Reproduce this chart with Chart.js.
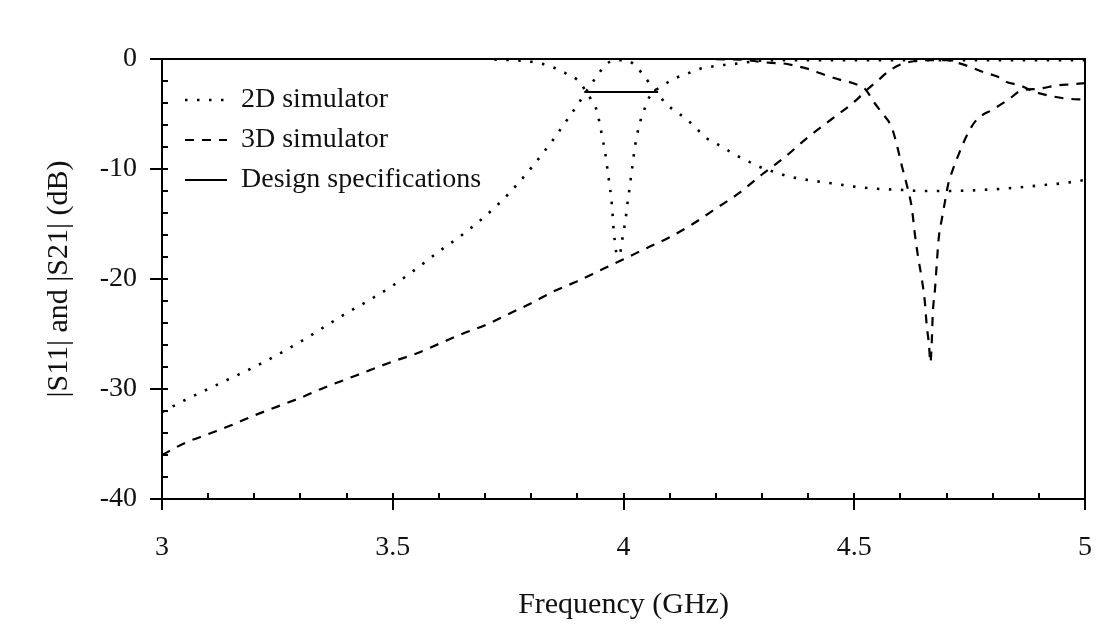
<!DOCTYPE html>
<html>
<head>
<meta charset="utf-8">
<script src="https://cdn.jsdelivr.net/npm/chart.js@4.4.1/dist/chart.umd.min.js"></script>
<style>
  html, body { margin: 0; padding: 0; background: #fff; }
  #wrap { width: 1099px; height: 632px; }
</style>
</head>
<body>
<div id="wrap"><canvas id="c" width="1099" height="632"></canvas></div>
<script>
// ---------- data ----------
const xTickValues = [3, 3.5, 4, 4.5, 5];
const xTickLabels = ['3', '3.5', '4', '4.5', '5'];
const yTickValues = [-40, -30, -20, -10, 0];
const yTickLabels = ['-40', '-30', '-20', '-10', '0'];
const xMinorStep = 0.1;
const yMinorStep = 2;

// 2D simulator, |S11|
const s11_2d_f  = [3.72, 3.76, 3.80, 3.82, 3.85, 3.875, 3.90, 3.915, 3.93, 3.943, 3.948, 3.954, 3.959, 3.963, 3.966, 3.969, 3.973, 3.976, 3.978, 3.981, 3.984, 3.988, 3.993, 3.997, 4.001, 4.005, 4.008, 4.012, 4.016, 4.020, 4.024, 4.028, 4.033, 4.039, 4.046, 4.053, 4.063, 4.085, 4.115, 4.14, 4.165, 4.19, 4.215, 4.24, 4.267, 4.295, 4.35, 4.5, 4.7, 4.9, 5.0];
const s11_2d_db = [-0.05, -0.1, -0.25, -0.4, -0.8, -1.3, -1.9, -2.7, -3.7, -4.8, -5.8, -7.1, -8.2, -9.3, -10.3, -11.2, -12.5, -13.9, -15.2, -16.5, -17.5, -17.9, -17.6, -16.5, -15.5, -14.4, -13.3, -12.1, -10.8, -9.5, -8.2, -7.2, -6.2, -5.3, -4.5, -3.7, -3.1, -2.4, -1.7, -1.3, -0.9, -0.7, -0.55, -0.45, -0.3, -0.15, -0.1, -0.1, -0.1, -0.1, -0.1];

// 2D simulator, |S21|
const s21_2d_f  = [3.00, 3.05, 3.10, 3.15, 3.20, 3.25, 3.30, 3.35, 3.40, 3.45, 3.50, 3.55, 3.60, 3.65, 3.70, 3.75, 3.80, 3.85, 3.88, 3.90, 3.92, 3.94, 3.96, 3.98, 4.00, 4.02, 4.04, 4.06, 4.075, 4.09, 4.115, 4.14, 4.16, 4.18, 4.21, 4.23, 4.255, 4.28, 4.30, 4.33, 4.36, 4.40, 4.45, 4.50, 4.55, 4.60, 4.65, 4.70, 4.75, 4.80, 4.85, 4.90, 4.95, 5.00];
const s21_2d_db = [-32.1, -31.0, -30.0, -29.0, -28.0, -26.9, -25.7, -24.4, -23.1, -21.9, -20.6, -19.1, -17.5, -16.0, -14.3, -12.3, -9.9, -7.2, -5.4, -4.2, -2.9, -1.7, -0.6, -0.1, -0.1, -0.4, -1.3, -2.4, -3.1, -4.0, -4.8, -5.6, -6.4, -7.2, -7.9, -8.4, -9.0, -9.5, -9.9, -10.3, -10.7, -11.0, -11.3, -11.6, -11.8, -11.9, -12.0, -12.0, -11.95, -11.85, -11.7, -11.5, -11.3, -11.0];

// 3D simulator, |S11|
const s11_3d_f  = [4.20, 4.25, 4.27, 4.295, 4.32, 4.345, 4.37, 4.40, 4.42, 4.44, 4.47, 4.49, 4.51, 4.523, 4.544, 4.562, 4.581, 4.594, 4.603, 4.610, 4.616, 4.625, 4.631, 4.638, 4.646, 4.653, 4.657, 4.662, 4.665, 4.668, 4.670, 4.675, 4.679, 4.683, 4.690, 4.696, 4.703, 4.714, 4.725, 4.740, 4.755, 4.768, 4.80, 4.837, 4.86, 4.90, 4.94, 4.97, 5.00];
const s11_3d_db = [-0.02, -0.05, -0.1, -0.25, -0.35, -0.4, -0.6, -0.9, -1.2, -1.5, -1.9, -2.1, -2.4, -2.7, -4.0, -5.0, -6.2, -8.1, -9.7, -10.8, -11.8, -13.6, -15.8, -17.9, -19.9, -22.1, -24.2, -26.0, -27.6, -25.7, -23.3, -20.9, -18.5, -16.3, -14.5, -13.1, -11.5, -10.0, -8.8, -7.3, -6.1, -5.4, -4.6, -3.6, -2.9, -2.7, -2.4, -2.3, -2.2];

// 3D simulator, |S21|
const s21_3d_f  = [3.00, 3.05, 3.10, 3.15, 3.20, 3.25, 3.30, 3.35, 3.40, 3.45, 3.50, 3.55, 3.60, 3.65, 3.70, 3.75, 3.80, 3.85, 3.90, 3.95, 4.00, 4.05, 4.10, 4.15, 4.20, 4.25, 4.30, 4.35, 4.40, 4.45, 4.50, 4.525, 4.55, 4.575, 4.60, 4.63, 4.66, 4.70, 4.72, 4.75, 4.78, 4.81, 4.83, 4.86, 4.88, 4.90, 4.93, 4.96, 5.00];
const s21_3d_db = [-36.0, -34.9, -34.1, -33.3, -32.4, -31.6, -30.8, -29.9, -29.1, -28.3, -27.5, -26.8, -25.9, -25.0, -24.2, -23.2, -22.2, -21.1, -20.2, -19.2, -18.2, -17.2, -16.2, -15.0, -13.6, -12.2, -10.5, -8.9, -7.1, -5.5, -3.9, -2.9, -2.0, -1.1, -0.5, -0.2, -0.1, -0.1, -0.3, -0.7, -1.2, -1.6, -2.1, -2.4, -2.8, -3.1, -3.4, -3.6, -3.7];

// Design specification
const spec_f  = [3.915, 4.075];
const spec_db = [-3, -3];

// ---------- chart ----------
const pts = (fs, vs) => fs.map((f, i) => ({ x: f, y: vs[i] }));
const FONT = "'Liberation Serif', 'Times New Roman', serif";
const INK = '#111';
const DOT = [2.5, 9.5];
const DASH = [9, 8];

const base = {
  borderColor: '#000', backgroundColor: '#000', borderWidth: 2.2,
  pointRadius: 0, fill: false, tension: 0, cubicInterpolationMode: 'monotone',
  borderCapStyle: 'butt'
};

const axisTicks = {
  id: 'axisTicks',
  afterLayout(chart) {
    const a = chart.chartArea, lg = chart.legend;
    if (lg) {
      lg.left = a.left + 11; lg.right = lg.left + lg.width;
      lg.top = a.top + 15; lg.bottom = a.bottom;
    }
  },
  afterDraw(chart) {
    const ctx = chart.ctx, a = chart.chartArea;
    const xs = chart.scales.x, ys = chart.scales.y;
    ctx.save();
    ctx.strokeStyle = '#000';
    ctx.lineWidth = 2;
    ctx.setLineDash([]);
    ctx.beginPath();
    // frame: top and right
    ctx.moveTo(a.left, a.top); ctx.lineTo(a.right, a.top); ctx.lineTo(a.right, a.bottom);
    // inward ticks on x axis
    for (let v = xs.min; v <= xs.max + 1e-9; v += xMinorStep) {
      const px = Math.round(xs.getPixelForValue(v));
      ctx.moveTo(px, a.bottom); ctx.lineTo(px, a.bottom - 6);
    }
    // inward ticks on y axis
    for (let v = ys.min; v <= ys.max + 1e-9; v += yMinorStep) {
      const py = Math.round(ys.getPixelForValue(v));
      ctx.moveTo(a.left, py); ctx.lineTo(a.left + 6, py);
    }
    ctx.stroke();
    ctx.restore();
  }
};

new Chart(document.getElementById('c'), {
  type: 'line',
  data: {
    datasets: [
      Object.assign({}, base, { label: '2D simulator', data: pts(s11_2d_f, s11_2d_db), borderDash: DOT, borderWidth: 2.6 }),
      Object.assign({}, base, { label: '3D simulator', data: pts(s11_3d_f, s11_3d_db), borderDash: DASH }),
      Object.assign({}, base, { label: 'Design specifications', data: pts(spec_f, spec_db), borderDash: [], cubicInterpolationMode: 'default' }),
      Object.assign({}, base, { label: '2D simulator |S21|', data: pts(s21_2d_f, s21_2d_db), borderDash: DOT, borderWidth: 2.6 }),
      Object.assign({}, base, { label: '3D simulator |S21|', data: pts(s21_3d_f, s21_3d_db), borderDash: DASH })
    ]
  },
  options: {
    responsive: false,
    animation: false,
    layout: { padding: { top: 59, right: 14, left: 0, bottom: 0 } },
    scales: {
      x: {
        type: 'linear', min: 3, max: 5,
        afterFit: s => { s.height = 133; s.paddingLeft = 0; s.paddingRight = 0; },
        afterBuildTicks: s => { s.ticks = xTickValues.map(v => ({ value: v })); },
        ticks: {
          callback: (v, i) => xTickLabels[i],
          font: { family: FONT, size: 28 }, color: INK, padding: 21, maxRotation: 0, autoSkip: false
        },
        grid: { display: true, drawOnChartArea: false, drawTicks: true, tickLength: 11, color: '#000', lineWidth: 2 },
        border: { display: true, color: '#000', width: 2 },
        title: { display: true, text: 'Frequency (GHz)', font: { family: FONT, size: 30 }, color: INK, padding: { top: 0, bottom: 9 } }
      },
      y: {
        type: 'linear', min: -40, max: 0,
        afterFit: s => { s.width = 162; s.paddingTop = 0; s.paddingBottom = 0; },
        afterBuildTicks: s => { s.ticks = yTickValues.map(v => ({ value: v })); },
        ticks: {
          callback: (v, i) => yTickLabels[i],
          font: { family: FONT, size: 28 }, color: INK, padding: 13, autoSkip: false
        },
        grid: { display: true, drawOnChartArea: false, drawTicks: true, tickLength: 12, color: '#000', lineWidth: 2 },
        border: { display: true, color: '#000', width: 2 },
        title: { display: true, text: '|S11| and |S21| (dB)', font: { family: FONT, size: 30 }, color: INK, padding: { top: 41, bottom: 0 } }
      }
    },
    plugins: {
      tooltip: { enabled: false },
      legend: {
        display: true,
        position: 'chartArea',
        align: 'start',
        labels: {
          generateLabels: chart => {
            const items = Chart.defaults.plugins.legend.labels.generateLabels(chart);
            items.forEach(it => {
              const ds = chart.data.datasets[it.datasetIndex];
              it.lineDash = ds.borderDash;
              it.lineWidth = ds.borderWidth;
              it.strokeStyle = ds.borderColor;
              it.lineCap = 'butt';
            });
            return items;
          },
          filter: item => item.datasetIndex < 3,
          usePointStyle: true,
          pointStyle: 'line',
          pointStyleWidth: 42,
          padding: 12,
          color: INK,
          font: { family: FONT, size: 28 }
        }
      }
    }
  },
  plugins: [axisTicks]
});
</script>
</body>
</html>
